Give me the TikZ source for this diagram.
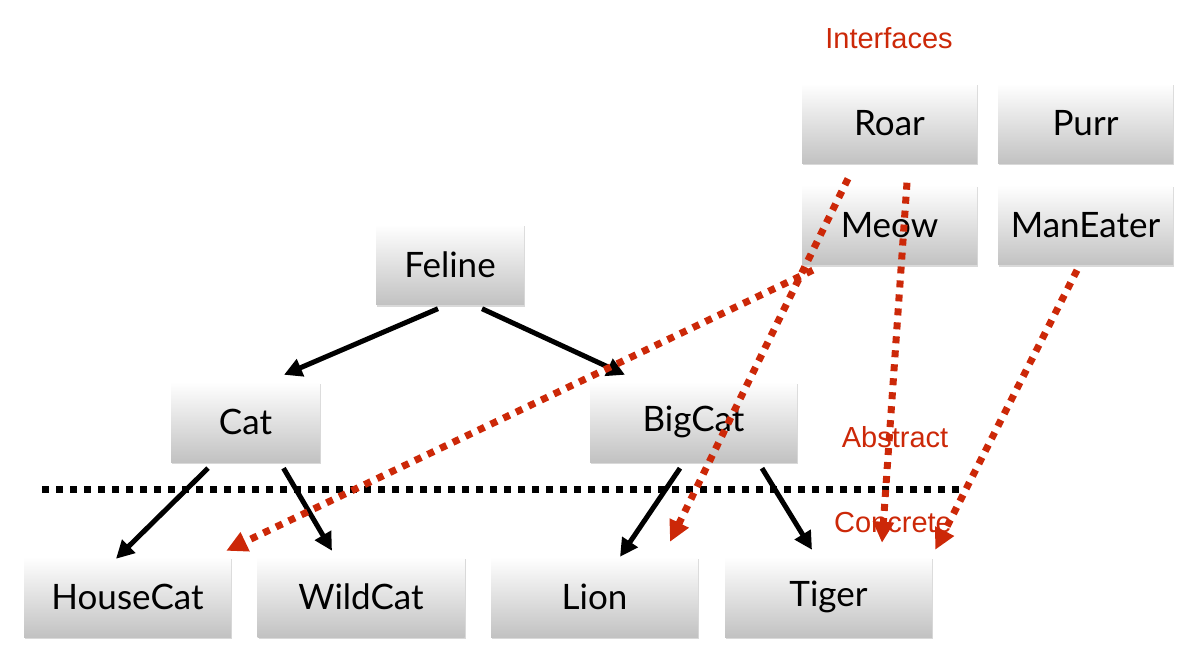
\documentclass[tikz,border=0pt]{standalone}
\usepackage{fontspec}
\setmainfont{Lato}
\newfontfamily\labelfont{Liberation Sans}
\usetikzlibrary{arrows.meta,shadows}
\definecolor{ifred}{RGB}{204,40,8}
\begin{document}
\begin{tikzpicture}[x=1pt,y=-1pt,>={Triangle[length=18pt,width=18pt]},
    box/.style={rectangle,inner sep=0pt,minimum width=175pt,minimum height=80pt,top color=white,bottom color=gray!48,
      drop shadow={shadow xshift=1pt,shadow yshift=-2pt,opacity=0.3},font=\fontsize{35}{40}\selectfont},
    wide/.style={box,minimum width=207pt},
    isa/.style={->,line width=5pt},
    impl/.style={-{Triangle[length=21pt,width=20pt]},ifred,line width=7pt,dash pattern=on 7pt off 7pt},
    lbl/.style={ifred,font=\labelfont\fontsize{29}{32}\selectfont}]
    \useasboundingbox (0,0) rectangle (1197,663);
    % interfaces
    \node[box](roar) at (889.5,123.5){Roar};
    \node[box](purr) at (1085.5,123.5){Purr};
    \node[box](meow) at (889.5,225){Meow};
    \node[box](maneater) at (1085.5,225){ManEater};
    % classes
    \node[box,minimum width=148pt](feline) at (450,264.5){Feline};
    \node[box,minimum width=149pt](cat) at (245.5,422){Cat};
    \node[wide](bigcat) at (693.5,422){BigCat};
    \node[wide](housecat) at (127.5,597){HouseCat};
    \node[wide](wildcat) at (361,597){WildCat};
    \node[wide](lion) at (594.5,597){Lion};
    \node[wide](tiger) at (828.5,597){Tiger};
    % inheritance
    \draw[isa]([xshift=-12pt,yshift=-4pt]feline.south)--([xshift=38.5pt,yshift=7pt]cat.north);
    \draw[isa]([xshift=32pt,yshift=-4pt]feline.south)--([xshift=-68.5pt,yshift=7pt]bigcat.north);
    \draw[isa]([xshift=-37.5pt,yshift=-6pt]cat.south)--([xshift=-11.5pt,yshift=-2pt]housecat.north);
    \draw[isa]([xshift=38pt,yshift=-6pt]cat.south)--([xshift=-29pt,yshift=6pt]wildcat.north);
    \draw[isa]([xshift=-13.5pt,yshift=-6pt]bigcat.south)--([xshift=25.5pt]lion.north);
    \draw[isa]([xshift=68.5pt,yshift=-6pt]bigcat.south)--([xshift=-16.5pt,yshift=7pt]tiger.north);
    \draw[line width=7pt,dash pattern=on 7pt off 7pt](42,489)--(965,489);
    % implements
    \draw[impl]([xshift=11pt,yshift=-5pt]meow.south west)--([xshift=-5pt,yshift=6pt]housecat.north east);
    \draw[impl]([xshift=-41.5pt,yshift=-15pt]roar.south)--([xshift=75.5pt,yshift=15pt]lion.north);
    \draw[impl]([xshift=17.5pt,yshift=-19pt]roar.south)--([xshift=53.5pt,yshift=14pt]tiger.north);
    \draw[impl]([xshift=-8.5pt,yshift=-5pt]maneater.south)--([xshift=3pt,yshift=7pt]tiger.north east);
    \node[lbl](interfaces) at (889,38){Interfaces};
    \node[lbl](abstract) at (895,437){Abstract};
    \node[lbl](concrete) at (893,523){Concrete};
\end{tikzpicture}
\end{document}
